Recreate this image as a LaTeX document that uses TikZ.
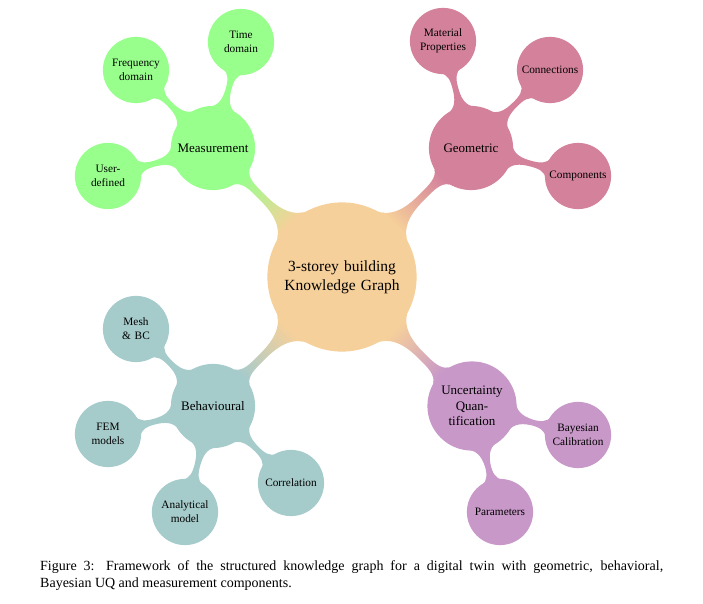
\documentclass[tikz,border=0pt]{standalone}
\usepackage{fontspec}
\setmainfont{Liberation Serif}
\usetikzlibrary{mindmap}
\definecolor{cRoot}{RGB}{246,208,154}
\definecolor{cMeas}{RGB}{152,255,140}
\definecolor{cGeom}{RGB}{212,130,156}
\definecolor{cBeh}{RGB}{166,203,203}
\definecolor{cUQ}{RGB}{200,152,200}
\begin{document}
\begin{tikzpicture}[x=1pt,y=1pt]
\useasboundingbox (0,0) rectangle (703,604);
\begin{scope}[mindmap, text=black,
  rootc/.style={concept, minimum size=148pt, text width=130pt, inner sep=0pt, align=center, text=black, font=\fontsize{15.5}{19}\selectfont},
  lvlone/.style={concept, minimum size=83pt, text width=76pt, inner sep=0pt, align=center, text=black, font=\fontsize{13}{15.5}\selectfont},
  leafc/.style={concept, minimum size=65pt, text width=60pt, inner sep=0pt, align=center, text=black, font=\fontsize{11.3}{14}\selectfont}]
% root
\node[rootc, concept color=cRoot] (root) at (342,327) {3-storey building\\Knowledge Graph};
% level 1
\node[lvlone, concept color=cMeas] (meas) at (213,456) {Measurement};
\node[lvlone, concept color=cGeom] (geom) at (471,456) {Geometric};
\node[lvlone, concept color=cBeh] (beh) at (213,198) {Behavioural};
\node[lvlone, concept color=cUQ, minimum size=88pt] (uq) at (472,198) {Uncertainty\\Quan-\\tification};
% leaves measurement
\node[leafc, concept color=cMeas] (td) at (241,562) {Time\\domain};
\node[leafc, concept color=cMeas] (fd) at (136,534) {Frequency\\domain};
\node[leafc, concept color=cMeas] (ud) at (108,428) {User-\\defined};
% leaves geometric
\node[leafc, concept color=cGeom] (mp) at (443,563) {Material\\Properties};
\node[leafc, concept color=cGeom] (con) at (550,534) {Connections};
\node[leafc, concept color=cGeom] (comp) at (578,428) {Components};
% leaves behavioural
\node[leafc, concept color=cBeh] (mesh) at (136,275) {Mesh\\\& BC};
\node[leafc, concept color=cBeh] (fem) at (108,170) {FEM\\models};
\node[leafc, concept color=cBeh] (ana) at (185,92) {Analytical\\model};
\node[leafc, concept color=cBeh] (corr) at (291,121) {Correlation};
% leaves UQ
\node[leafc, concept color=cUQ] (bay) at (578,169) {Bayesian\\Calibration};
\node[leafc, concept color=cUQ] (par) at (500,92) {Parameters};
% connections root
\path (root) to[circle connection bar switch color=from (cRoot) to (cMeas)] (meas);
\path (root) to[circle connection bar switch color=from (cRoot) to (cGeom)] (geom);
\path (root) to[circle connection bar switch color=from (cRoot) to (cBeh)] (beh);
\path (root) to[circle connection bar switch color=from (cRoot) to (cUQ)] (uq);
% connections level 2
\path[concept color=cMeas] (meas) to[circle connection bar] (td);
\path[concept color=cMeas] (meas) to[circle connection bar] (fd);
\path[concept color=cMeas] (meas) to[circle connection bar] (ud);
\path[concept color=cGeom] (geom) to[circle connection bar] (mp);
\path[concept color=cGeom] (geom) to[circle connection bar] (con);
\path[concept color=cGeom] (geom) to[circle connection bar] (comp);
\path[concept color=cBeh] (beh) to[circle connection bar] (mesh);
\path[concept color=cBeh] (beh) to[circle connection bar] (fem);
\path[concept color=cBeh] (beh) to[circle connection bar] (ana);
\path[concept color=cBeh] (beh) to[circle connection bar] (corr);
\path[concept color=cUQ] (uq) to[circle connection bar] (bay);
\path[concept color=cUQ] (uq) to[circle connection bar] (par);
\end{scope}
\node[anchor=north west, inner sep=0pt, text width=623pt, align=justify, font=\fontsize{14}{17}\selectfont] (cap) at (40,44)
  {Figure 3: Framework of the structured knowledge graph for a digital twin with geometric, behavioral,\linebreak Bayesian UQ and measurement components.};
\end{tikzpicture}
\end{document}
